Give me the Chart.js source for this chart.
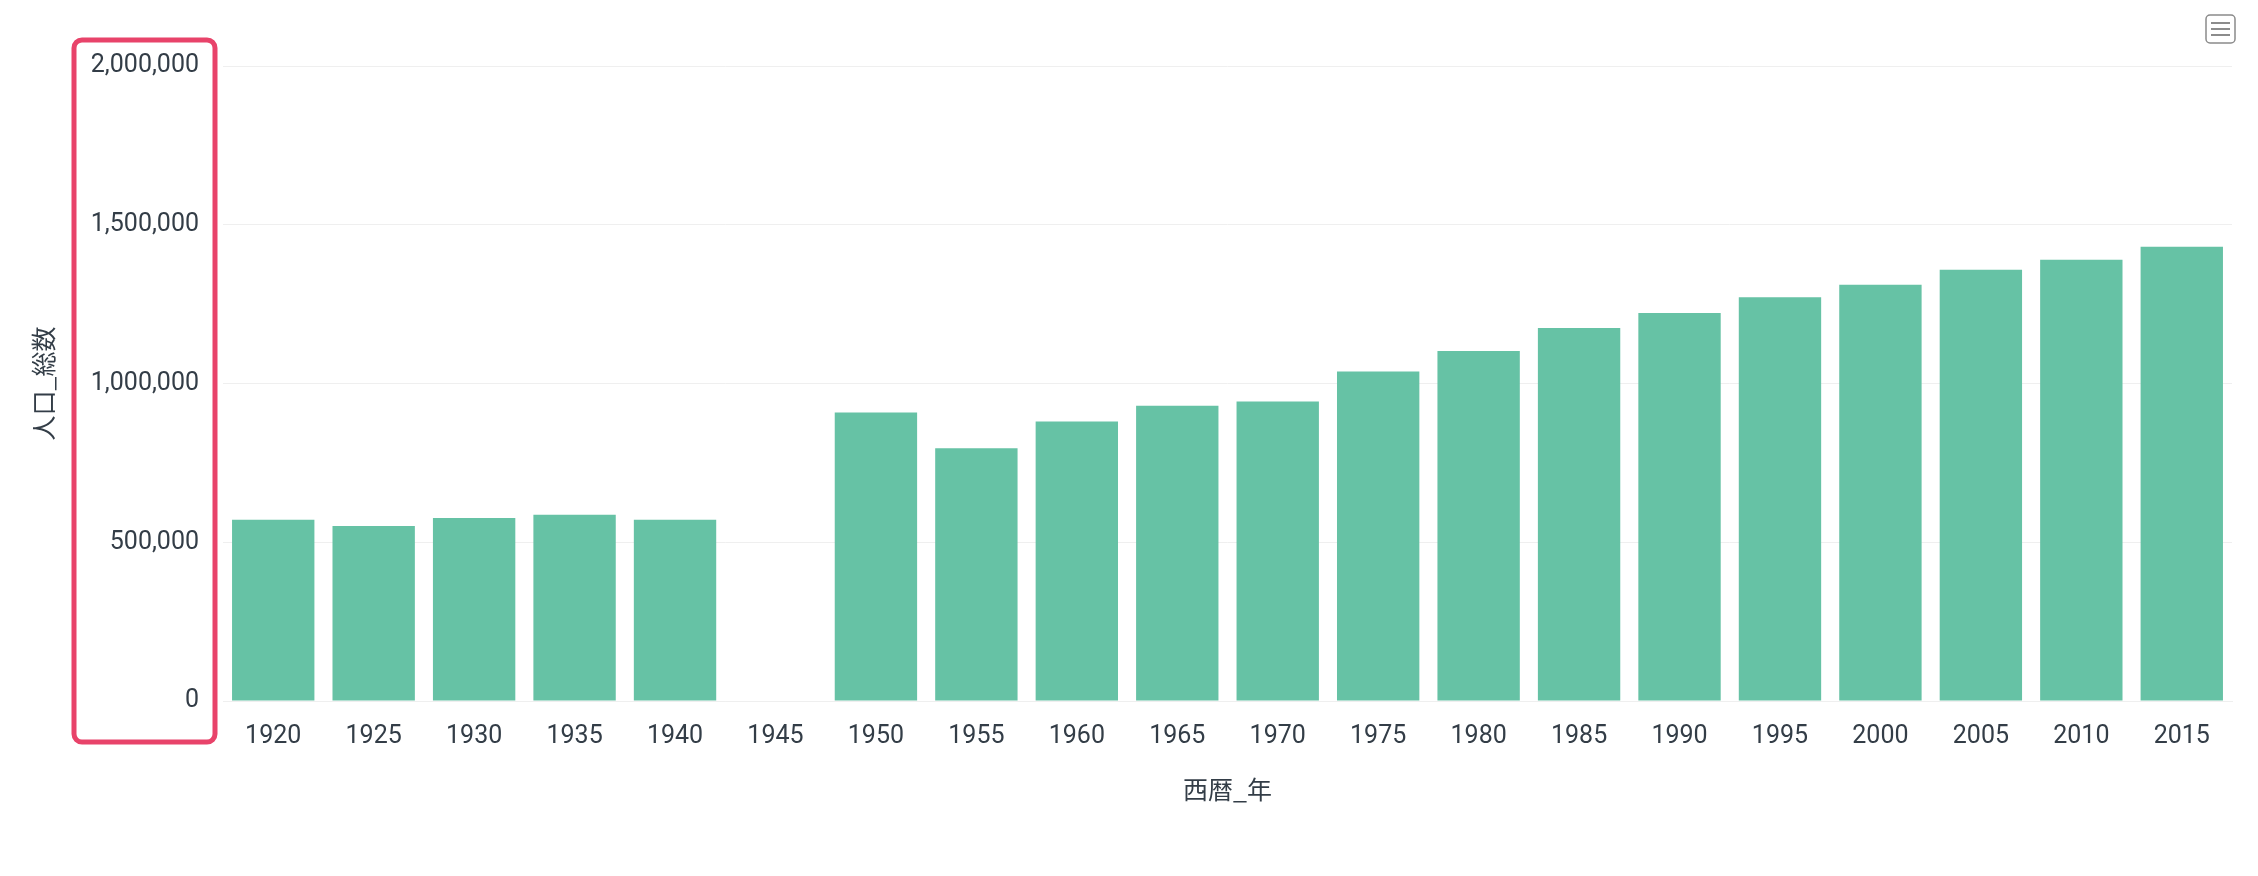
<!DOCTYPE html>
<html>
<head>
<meta charset="utf-8">
<script src="https://cdn.jsdelivr.net/npm/chart.js@4"></script>
<style>
  html, body { margin: 0; padding: 0; background: #fff; }
  #wrap { width: 2258px; height: 876px; }
</style>
</head>
<body>
<div id="wrap"><canvas id="popChart"></canvas></div>
<script>
const years = ['1920', '1925', '1930', '1935', '1940', '1945', '1950', '1955', '1960', '1965',
    '1970', '1975', '1980', '1985', '1990', '1995', '2000', '2005', '2010', '2015'];
const population = [571000, 551000, 576000, 587000, 571000, null, 909000, 796000, 880000, 930000,
    943000, 1038000, 1102000, 1175000, 1222000, 1272000, 1311000, 1358000, 1390000, 1431000];
const yTicks = [0, 500000, 1000000, 1500000, 2000000];

// red highlight around the y axis + menu icon
const overlay = {
    id: 'overlay',
    afterDraw(chart) {
        const ctx = chart.ctx;
        ctx.save();
        ctx.strokeStyle = '#e8436a';
        ctx.lineWidth = 5;
        ctx.beginPath();
        ctx.roundRect(74, 40, 141, 702, 8);
        ctx.stroke();

        ctx.strokeStyle = '#8a8a8a';
        ctx.lineWidth = 1.5;
        ctx.beginPath();
        ctx.roundRect(2206, 15, 29, 28, 4);
        ctx.stroke();
        ctx.strokeStyle = '#666';
        ctx.lineWidth = 1.5;
        [23, 29, 35].forEach(y => {
            ctx.beginPath();
            ctx.moveTo(2211, y);
            ctx.lineTo(2230, y);
            ctx.stroke();
        });
        ctx.restore();
    }
};

new Chart(document.getElementById('popChart'), {
    type: 'bar',
    data: {
        labels: years,
        datasets: [{
            data: population,
            backgroundColor: '#66c2a5',
            borderWidth: 0,
            categoryPercentage: 1,
            barPercentage: 0.82
        }]
    },
    options: {
        responsive: true,
        maintainAspectRatio: false,
        animation: false,
        layout: { padding: { top: 66, right: 26, bottom: 72, left: 28 } },
        scales: {
            y: {
                min: 0,
                max: 2000000,
                afterBuildTicks: (scale) => { scale.ticks = yTicks.map(v => ({ value: v })); },
                afterFit: (scale) => { scale.width = 195; },
                border: { display: false },
                grid: { color: '#efefef', drawTicks: false },
                ticks: {
                    padding: 24,
                    color: '#333d47',
                    font: { family: 'Roboto', size: 25 },
                    callback: (v) => v.toLocaleString('en-US')
                },
                title: {
                    display: true,
                    text: '人口_総数',
                    color: '#333d47',
                    font: { family: "'Noto Sans CJK JP'", size: 25 },
                    padding: 0
                }
            },
            x: {
                afterFit: (scale) => { scale.height = 103; },
                border: { color: '#efefef' },
                grid: { display: false },
                ticks: {
                    padding: 13,
                    color: '#333d47',
                    font: { family: 'Roboto', size: 25 }
                },
                title: {
                    display: true,
                    text: '西暦_年',
                    color: '#333d47',
                    font: { family: "'Noto Sans CJK JP'", size: 25 },
                    padding: 0
                }
            }
        },
        plugins: {
            legend: { display: false },
            tooltip: { enabled: false }
        }
    },
    plugins: [overlay]
});
</script>
</body>
</html>
